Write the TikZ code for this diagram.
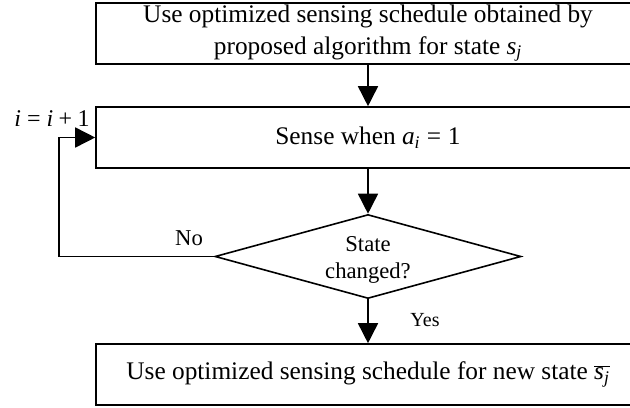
\documentclass[tikz,border=0pt]{standalone}
\usepackage{fontspec}
\setmainfont{Liberation Serif}
\usetikzlibrary{shapes.geometric,arrows.meta}
\newcommand{\mv}[1]{\textit{#1}}
\begin{document}
\begin{tikzpicture}[x=0.75pt,y=-0.75pt,
  box/.style={draw,line width=1.2pt,minimum width=408pt,minimum height=45.75pt,inner sep=0pt,align=center,font=\fontsize{19}{23.3}\selectfont},
  decision/.style={draw,shape=diamond,shape aspect=3.64,line width=1.2pt,minimum width=229.5pt,minimum height=63pt,inner sep=0pt},
  dtext/.style={inner sep=0pt,align=center,font=\fontsize{17}{20.3}\selectfont},
  lbl/.style={inner sep=0pt,font=\fontsize{16}{19}\selectfont},
  arr/.style={line width=1.2pt,-{Triangle[length=15pt,width=15pt]}}]
\useasboundingbox (0,0) rectangle (630,407);
\clip (0,0) rectangle (630,407);
\node[box] (b1) at (368,33.5) {Use optimized sensing schedule obtained by\\proposed algorithm for state \mv{s}\textsubscript{\mv{j}}};
\node[box] (b2) at (368,137.5) {Sense when \mv{a}\textsubscript{\mv{i}}\hspace{5pt}=\hspace{5pt}1};
\node[decision] (d) at (368,256.5) {};
\node[dtext] (dt) at (368,260) {State\\changed?};
\node[box] (b3) at (368,374.5) {Use optimized sensing schedule for new state $\overline{\hbox{\itshape s\textsubscript{j}}}$};
\coordinate (lp) at (59,256.5);
\draw[arr] (b1) -- (b2);
\draw[arr] (b2) -- (d);
\draw[arr] (d) -- (b3);
\draw[arr] (d.west) -- (lp) |- (b2.west);
\node[lbl,font=\fontsize{18}{21}\selectfont] (inc) at (52,119) {\mv{i}\hspace{4.5pt}=\hspace{4.5pt}\mv{i}\hspace{4pt}+\hspace{4pt}1};
\node[lbl,font=\fontsize{17}{20}\selectfont] (no) at (189,238) {No};
\node[lbl,font=\fontsize{15}{18}\selectfont] (yes) at (425,320) {Yes};
\end{tikzpicture}
\end{document}
